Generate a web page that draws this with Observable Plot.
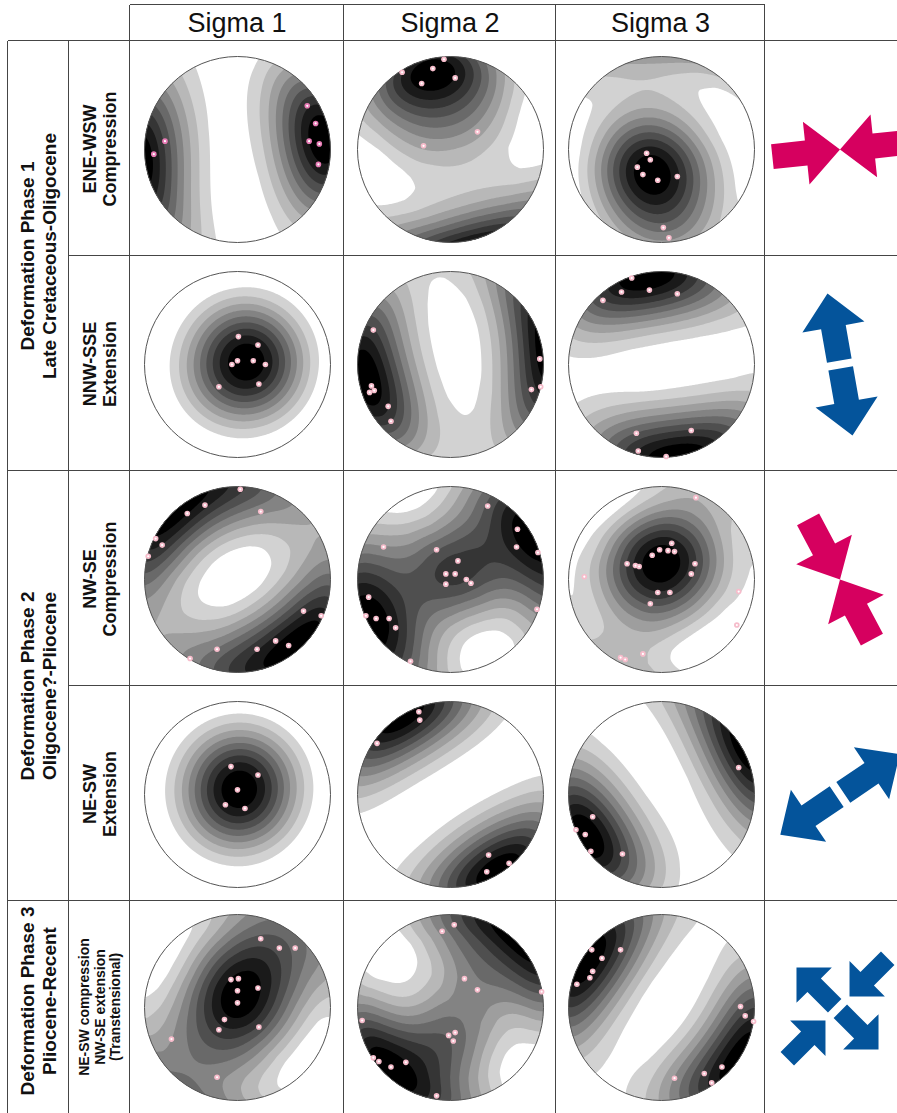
<!DOCTYPE html>
<html><head><meta charset="utf-8">
<script src="https://cdn.jsdelivr.net/npm/d3@7"></script>
<script src="https://cdn.jsdelivr.net/npm/@observablehq/plot@0.6"></script>
<style>
html,body{margin:0;padding:0;background:#fff;}
#page{position:relative;width:897px;height:1113px;overflow:hidden;font-family:"Liberation Sans",Arial,sans-serif;color:#111;}
.h{position:absolute;height:0;border-top:1.5px solid #454545;}
.v{position:absolute;width:0;border-left:1.5px solid #454545;}
.lbl{position:absolute;transform:translate(-50%,-50%) rotate(-90deg);white-space:nowrap;text-align:center;font-weight:bold;}
.hdr{position:absolute;text-align:center;font-size:27px;top:5px;height:36px;line-height:36px;}
.cell{position:absolute;}
</style></head><body><div id="page"></div>
<script>
// ---------------- data ----------------
const columns = ["Sigma 1", "Sigma 2", "Sigma 3"];
const phaseLabels = [
  ["Deformation Phase 1", "Late Cretaceous-Oligocene"],
  ["Deformation Phase 2", "Oligocene?-Pliocene"],
  ["Deformation Phase 3", "Pliocene-Recent"]
];
const phaseRows = [[0, 1], [2, 3], [4, 4]];
const regimeLabels = [
  ["ENE-WSW", "Compression"],
  ["NNW-SSE", "Extension"],
  ["NW-SE", "Compression"],
  ["NE-SW", "Extension"],
  ["NE-SW compression", "NW-SE extension", "(Transtensional)"]
];

// principal stress axes, lower-hemisphere equal-area net, unit-circle coordinates [east, north]
const eneWswS1 = [[0.75,0.47],[0.84,0.28],[0.77,0.09],[0.88,0.06],[0.87,-0.16],[-0.78,0.09],[-0.90,-0.05]];
const eneWswS2 = [[-0.07,0.97],[-0.19,0.87],[0.05,0.77],[-0.31,0.71],[-0.52,0.83],[0.29,0.19],[-0.29,0.04]];
const eneWswS3 = [[-0.16,-0.04],[-0.12,-0.11],[-0.26,-0.19],[-0.20,-0.27],[-0.04,-0.33],[0.17,-0.29],[0.02,-0.84],[0.08,-0.95]];

const nnwSseS1 = [[0.01,0.30],[0.22,0.21],[0.00,0.04],[-0.06,0.00],[0.17,0.04],[0.30,0.00],[0.23,-0.21],[-0.20,-0.24]];
const nnwSseS2 = [[-0.83,0.37],[-0.85,-0.23],[-0.87,-0.30],[-0.82,-0.28],[-0.67,-0.45],[-0.64,-0.61],[0.96,0.06],[0.87,-0.27],[0.97,-0.24]];
const nnwSseS3 = [[-0.32,0.93],[-0.43,0.78],[-0.13,0.80],[0.17,0.76],[-0.63,0.69],[-0.27,-0.74],[0.32,-0.71],[-0.25,-0.93],[0.05,-0.99]];

const nwSeS1 = [[0.03,0.97],[-0.35,0.80],[-0.54,0.71],[0.25,0.73],[-0.88,0.44],[-0.81,0.37],[-0.96,0.25],[0.71,-0.34],[0.90,-0.39],[0.41,-0.66],[0.55,-0.71],[0.21,-0.75],[-0.22,-0.75],[-0.51,-0.85]];
const nwSeS2 = [[0.40,0.79],[0.72,0.54],[0.71,0.35],[0.94,0.29],[-0.72,0.35],[-0.15,0.32],[0.08,0.20],[-0.05,0.06],[0.05,0.06],[0.17,0.00],[0.22,-0.04],[-0.05,-0.05],[0.93,-0.32],[-0.88,-0.19],[-0.91,-0.39],[-0.80,-0.42],[-0.66,-0.42],[-0.59,-0.52],[-0.43,-0.88]];
const nwSeS3 = [[0.37,0.88],[0.11,0.39],[-0.02,0.32],[0.07,0.31],[0.14,0.30],[-0.10,0.26],[-0.37,0.17],[-0.28,0.15],[-0.24,0.14],[0.36,0.17],[0.32,0.06],[-0.04,-0.14],[0.09,-0.14],[-0.12,-0.26],[-0.83,0.03],[0.83,-0.13],[0.81,-0.49],[-0.20,-0.80],[-0.44,-0.84],[-0.39,-0.86]];

const neSwS1 = [[-0.07,0.30],[0.22,0.21],[0.00,0.05],[-0.13,-0.11],[0.08,-0.15]];
const neSwS2 = [[-0.34,0.89],[-0.33,0.80],[-0.79,0.55],[0.41,-0.65],[0.63,-0.74],[0.39,-0.83]];
const neSwS3 = [[0.83,0.29],[-0.74,-0.24],[-0.92,-0.38],[-0.82,-0.43],[-0.76,-0.61],[-0.42,-0.64]];

const transS1 = [[0.25,0.74],[0.45,0.64],[0.62,0.64],[-0.07,0.30],[0.01,0.31],[0.00,0.18],[0.22,0.21],[0.00,0.05],[-0.14,-0.13],[-0.20,-0.24],[0.23,-0.21],[-0.71,-0.34],[-0.22,-0.75]];
const transS2 = [[0.04,0.89],[-0.09,0.82],[0.15,0.31],[0.29,0.19],[0.98,0.17],[-0.95,-0.14],[-0.02,-0.30],[0.05,-0.27],[0.03,-0.36],[-0.83,-0.54],[-0.77,-0.58],[-0.64,-0.64],[-0.48,-0.59],[-0.15,-0.95]];
const transS3 = [[-0.75,0.62],[-0.64,0.53],[-0.44,0.62],[-0.74,0.39],[-0.77,0.32],[-0.91,0.25],[0.85,0.01],[0.90,-0.09],[0.99,-0.15],[0.65,-0.64],[0.46,-0.71],[0.54,-0.81],[0.14,-0.76]];

const stressAxes = [
  [eneWswS1, eneWswS2, eneWswS3],
  [nnwSseS1, nnwSseS2, nnwSseS3],
  [nwSeS1, nwSeS2, nwSeS3],
  [neSwS1, neSwS2, neSwS3],
  [transS1, transS2, transS3]
];

// regime icons: azimuth (deg, clockwise from north) of each arrow's axis away from the centre
const iconArrows = [
  {row: 0, azimuth: 84, sense: "in"}, {row: 0, azimuth: 264, sense: "in"},
  {row: 1, azimuth: 350, sense: "out"}, {row: 1, azimuth: 170, sense: "out"},
  {row: 2, azimuth: 332, sense: "in"}, {row: 2, azimuth: 152, sense: "in"},
  {row: 3, azimuth: 56, sense: "out"}, {row: 3, azimuth: 236, sense: "out"},
  {row: 4, azimuth: 45, sense: "in"}, {row: 4, azimuth: 225, sense: "in"},
  {row: 4, azimuth: 315, sense: "out"}, {row: 4, azimuth: 135, sense: "out"}
];

// ---------------- layout / style ----------------
const colX = [8, 69, 130, 344, 556, 765, 897];
const rowY = [41, 256, 471, 686, 901, 1113];
const compressionColor = "#d6005f", extensionColor = "#04549b";
const iconColor = [compressionColor, extensionColor, compressionColor, extensionColor, extensionColor];
const bigIcon = {dx: 7.5, dy: 0.5, len: 68, headW: 63, headL: 34, shaftW: 25, offIn: 0, offOut: 4};
const smallIcon = {dx: 5, dy: 1, len: 54, headW: 50, headL: 25, shaftW: 19, offIn: 17, offOut: 4};
const iconGeom = [bigIcon, bigIcon, bigIcon, bigIcon, smallIcon];
const KAPPA = 3;
const levels = d3.range(1, 10).map(i => i / 10);

const page = document.getElementById("page");
function el(cls, style, html) {
  const d = document.createElement("div");
  d.className = cls; Object.assign(d.style, style);
  if (html != null) d.innerHTML = html;
  page.appendChild(d); return d;
}

// table lines
const hLines = [[5, 130, 765], [41, 8, 897], [256, 69, 897], [471, 8, 897], [686, 69, 897], [901, 8, 897]];
for (const [y, x1, x2] of hLines) el("h", {top: (y - 0.75) + "px", left: x1 + "px", width: (x2 - x1) + "px"});
const vLines = [[8, 41], [69, 41], [130, 5], [344, 5], [556, 5], [765, 5]];
for (const [x, y1] of vLines) el("v", {left: (x - 0.75) + "px", top: y1 + "px", height: (1113 - y1) + "px"});

// headers
columns.forEach((t, c) => el("hdr", {left: colX[c + 2] + "px", width: (colX[c + 3] - colX[c + 2]) + "px"}, t));

// phase labels
phaseLabels.forEach((lines, i) => {
  const [r0, r1] = phaseRows[i];
  const cy = (rowY[r0] + rowY[r1 + 1]) / 2 - (i === 2 ? 6 : 0);
  el("lbl", {left: (colX[0] + colX[1]) / 2 + "px", top: cy + "px", fontSize: "19px", lineHeight: "22px"}, lines.join("<br>"));
});
regimeLabels.forEach((lines, r) => {
  const cy = (rowY[r] + rowY[r + 1]) / 2;
  const small = lines.length > 2;
  el("lbl", {left: (colX[1] + colX[2]) / 2 + "px", top: cy + "px", fontSize: small ? "14px" : "18px", lineHeight: small ? "15.5px" : "20px"}, lines.join("<br>"));
});

// ---------------- density field on the sphere ----------------
function vec(u, v) {
  let r = Math.hypot(u, v);
  if (r > 1) { u /= r; v /= r; r = 1; }
  if (r < 1e-9) return [0, 0, -1];
  const th = 2 * Math.asin(r / Math.SQRT2);
  const s = Math.sin(th) / r;
  return [u * s, v * s, -Math.cos(th)];
}
function makeField(points, kappa) {
  const vs = points.map(([u, v]) => vec(u, v));
  const raw = (u, v) => {
    const [a, b, c] = vec(u, v);
    let s = 0;
    for (const [x, y, z] of vs) s += Math.exp(kappa * (Math.abs(a * x + b * y + c * z) - 1));
    return s;
  };
  let lo = Infinity, hi = -Infinity;
  const n = 100;
  for (let i = 0; i <= n; i++) for (let j = 0; j <= n; j++) {
    const u = -1 + 2 * i / n, v = -1 + 2 * j / n;
    if (u * u + v * v > 1) continue;
    const f = raw(u, v);
    if (f < lo) lo = f; if (f > hi) hi = f;
  }
  return (u, v) => (raw(u, v) - lo) / (hi - lo);
}

// ---------------- stereonets ----------------
const colCenters = [0, 1, 2].map(c => (colX[c + 2] + colX[c + 3]) / 2);
stressAxes.forEach((row, r) => {
  const cy = (rowY[r] + rowY[r + 1]) / 2;
  row.forEach((pts, c) => {
    const field = makeField(pts, KAPPA);
    const dotColor = (r === 0 && c === 0) ? "#e77ab4" : "#f6bccb";
    const svg = Plot.plot({
      width: 200, height: 200, margin: 7,
      x: {domain: [-1, 1], axis: null},
      y: {domain: [-1, 1], axis: null},
      color: {type: "linear", domain: [0.1, 0.9], range: ["#d2d2d2", "#000000"]},
      style: {background: "none"},
      marks: [
        Plot.contour({x1: -1, y1: -1, x2: 1, y2: 1, fill: field, thresholds: levels, pixelSize: 1, stroke: "none"}),
        Plot.dot([0], {x: 0, y: 0, r: 93, stroke: "#555", strokeWidth: 1}),
        Plot.dot(pts, {x: d => d[0], y: d => d[1], r: 2.8, fill: dotColor}),
        Plot.dot(pts, {x: d => d[0], y: d => d[1], r: 1.1, fill: "#ffffff"})
      ]
    });
    const id = `clip-${r}-${c}`;
    const s = d3.select(svg);
    s.insert("defs", ":first-child").append("clipPath").attr("id", id)
      .append("circle").attr("cx", 100).attr("cy", 100).attr("r", 93);
    s.selectAll('g[aria-label="contour"]').attr("clip-path", `url(#${id})`);
    const box = el("cell", {left: (colCenters[c] - 100) + "px", top: (cy - 100) + "px", width: "200px", height: "200px"});
    box.appendChild(svg);
  });
});

// ---------------- regime icons ----------------
function arrowShape(sense, off, headW, headL, shaftW) {
  const hw = headW / 2, sw = shaftW / 2;
  return {
    draw(ctx, l) {
      if (sense === "in") {
        ctx.moveTo(0, -off);
        ctx.lineTo(hw, -(off + headL)); ctx.lineTo(sw, -(off + headL));
        ctx.lineTo(sw, -(off + l)); ctx.lineTo(-sw, -(off + l));
        ctx.lineTo(-sw, -(off + headL)); ctx.lineTo(-hw, -(off + headL));
        ctx.closePath();
      } else {
        const b = off + l - headL;
        ctx.moveTo(-sw, -off); ctx.lineTo(sw, -off);
        ctx.lineTo(sw, -b); ctx.lineTo(hw, -b); ctx.lineTo(0, -(off + l));
        ctx.lineTo(-hw, -b); ctx.lineTo(-sw, -b);
        ctx.closePath();
      }
    }
  };
}
for (let r = 0; r < 5; r++) {
  const g = iconGeom[r];
  const h = rowY[r + 1] - rowY[r];
  const w = colX[6] - colX[5];
  const marks = ["in", "out"].map(sense => Plot.vector(iconArrows.filter(a => a.row === r && a.sense === sense), {
    x: () => g.dx, y: () => g.dy, rotate: "azimuth", length: g.len, anchor: "start",
    shape: arrowShape(sense, sense === "in" ? g.offIn : g.offOut, g.headW, g.headL, g.shaftW),
    fill: iconColor[r], stroke: "none"
  }));
  const svg = Plot.plot({
    width: w, height: h, margin: 0,
    x: {domain: [-w / 2, w / 2], axis: null},
    y: {domain: [h / 2, -h / 2], axis: null},
    style: {background: "none"},
    marks
  });
  const box = el("cell", {left: (colX[5] + 1) + "px", top: rowY[r] + "px", width: w + "px", height: h + "px"});
  box.appendChild(svg);
}
</script>
</body></html>
